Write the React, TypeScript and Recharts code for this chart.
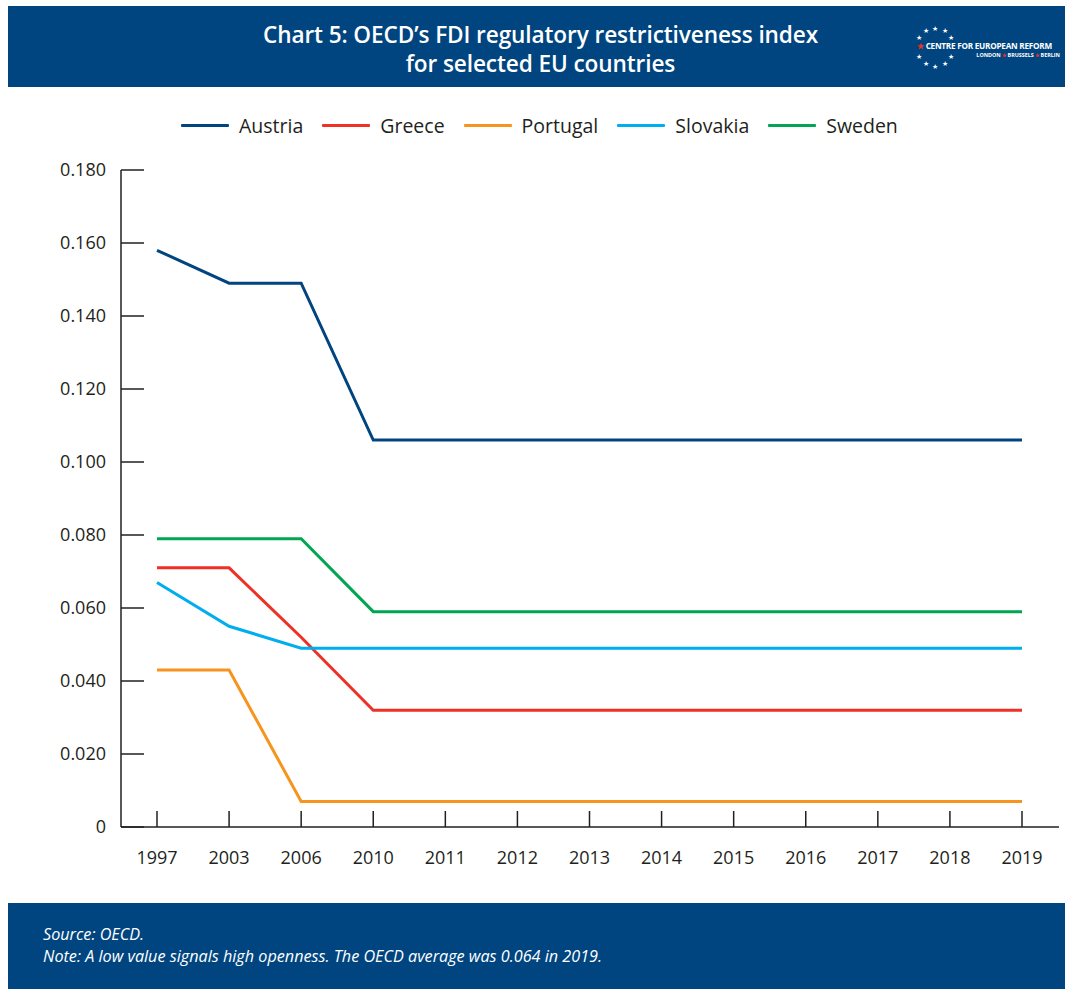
import { LineChart, Line, XAxis, YAxis } from "recharts";

const years = ["1997", "2003", "2006", "2010", "2011", "2012", "2013", "2014", "2015", "2016", "2017", "2018", "2019"];

const austria = [0.158, 0.149, 0.149, 0.106, 0.106, 0.106, 0.106, 0.106, 0.106, 0.106, 0.106, 0.106, 0.106];
const greece = [0.071, 0.071, 0.052, 0.032, 0.032, 0.032, 0.032, 0.032, 0.032, 0.032, 0.032, 0.032, 0.032];
const portugal = [0.043, 0.043, 0.007, 0.007, 0.007, 0.007, 0.007, 0.007, 0.007, 0.007, 0.007, 0.007, 0.007];
const slovakia = [0.067, 0.055, 0.049, 0.049, 0.049, 0.049, 0.049, 0.049, 0.049, 0.049, 0.049, 0.049, 0.049];
const sweden = [0.079, 0.079, 0.079, 0.059, 0.059, 0.059, 0.059, 0.059, 0.059, 0.059, 0.059, 0.059, 0.059];

const yTicks = [0, 0.02, 0.04, 0.06, 0.08, 0.1, 0.12, 0.14, 0.16, 0.18];

const series = [
  { key: "Austria", color: "#00457f" },
  { key: "Greece", color: "#ee3124" },
  { key: "Portugal", color: "#f7941d" },
  { key: "Slovakia", color: "#00aeef" },
  { key: "Sweden", color: "#00a651" },
];

const data = years.map((year, i) => ({
  year,
  Austria: austria[i],
  Greece: greece[i],
  Portugal: portugal[i],
  Slovakia: slovakia[i],
  Sweden: sweden[i],
}));

const BLUE = "#00457f";
const INK = "#231f20";
const FONT = "'Open Sans', sans-serif";

// y ticks: label left of the axis, tick mark pointing into the plot
const YTick = (props: any) => {
  const { x, y, payload } = props;
  const v = payload.value;
  return (
    <g>
      <line x1={x + 15} x2={x + 38} y1={y} y2={y} stroke={INK} strokeWidth={1.5} />
      <text x={x} y={y} dy={6} textAnchor="end" fontSize={18} fill={INK} fontFamily={FONT}>
        {v === 0 ? "0" : v.toFixed(3)}
      </text>
    </g>
  );
};

// x ticks: label below, tick mark pointing up
const XTick = (props: any) => {
  const { x, y, payload } = props;
  return (
    <g>
      <line x1={x} x2={x} y1={y - 22} y2={y - 38} stroke={INK} strokeWidth={1.5} />
      <text x={x} y={y} dy={15} textAnchor="middle" fontSize={18} fill={INK} fontFamily={FONT}>
        {payload.value}
      </text>
    </g>
  );
};

// ring of stars in the logo, gaps left where the name runs through it
const Stars = () => {
  const stars = [];
  for (let i = 0; i < 12; i++) {
    if (i === 3 || i === 9) continue;
    const a = (i * Math.PI) / 6 - Math.PI / 2;
    stars.push(
      <text
        key={i}
        x={22 + 19 * Math.cos(a)}
        y={24 + 19 * Math.sin(a)}
        dy={2.5}
        textAnchor="middle"
        fontSize={6.5}
        fill="#fff"
      >
        ★
      </text>
    );
  }
  return (
    <svg width={46} height={50} style={{ position: "absolute", left: -3, top: -4 }}>
      {stars}
    </svg>
  );
};

export default function App() {
  return (
    <div style={{ position: "relative", width: 1065, height: 989, overflow: "hidden", fontFamily: FONT }}>
      <style>{`body { margin: 0; }`}</style>

      {/* header band */}
      <div
        style={{
          position: "absolute",
          left: 8,
          top: 6,
          width: 1057,
          height: 81,
          background: BLUE,
          color: "#fff",
        }}
      >
        <div
          style={{
            position: "absolute",
            left: 0,
            width: 1065,
            top: 14,
            textAlign: "center",
            fontWeight: 600,
            fontSize: 22.6,
            lineHeight: "29px",
            letterSpacing: -0.1,
          }}
        >
          Chart 5: OECD’s FDI regulatory restrictiveness index
          <br />
          for selected EU countries
        </div>
        <div style={{ position: "absolute", left: 908, top: 21, width: 140, height: 44 }}>
          <Stars />
          <div
            style={{
              position: "absolute",
              left: 1,
              top: 14,
              fontSize: 8.2,
              lineHeight: "10px",
              fontWeight: 700,
              whiteSpace: "nowrap",
              letterSpacing: -0.25,
            }}
          >
            <span style={{ color: "#ee3124" }}>★</span> CENTRE FOR EUROPEAN REFORM
          </div>
          <div
            style={{
              position: "absolute",
              right: -4,
              top: 25,
              fontSize: 5.4,
              lineHeight: "7px",
              fontWeight: 700,
              whiteSpace: "nowrap",
            }}
          >
            LONDON <span style={{ color: "#ee3124" }}>★</span> BRUSSELS{" "}
            <span style={{ color: "#ee3124" }}>★</span> BERLIN
          </div>
        </div>
      </div>

      {/* legend */}
      <div
        style={{
          position: "absolute",
          left: 181,
          top: 112,
          display: "flex",
          alignItems: "center",
          gap: 19,
          fontSize: 19.5,
          color: INK,
        }}
      >
        {series.map((s) => (
          <div key={s.key} style={{ display: "flex", alignItems: "center", gap: 10 }}>
            <div style={{ width: 48, height: 3, background: s.color, borderRadius: 1 }} />
            <span>{s.key}</span>
          </div>
        ))}
      </div>

      <div style={{ position: "absolute", left: 0, top: 0 }}>
        <LineChart width={1065} height={910} data={data} margin={{ top: 170, right: 6, bottom: 33, left: 0 }}>
          <XAxis
            dataKey="year"
            padding={{ left: 36, right: 37 }}
            axisLine={{ stroke: INK, strokeWidth: 1.5 }}
            tickLine={false}
            tickSize={0}
            tickMargin={22}
            height={50}
            tick={<XTick />}
            interval={0}
          />
          <YAxis
            domain={[0, 0.18]}
            ticks={yTicks}
            width={121}
            axisLine={{ stroke: INK, strokeWidth: 1.5 }}
            tickLine={false}
            tickSize={0}
            tickMargin={15}
            tick={<YTick />}
            interval={0}
          />
          {series.map((s) => (
            <Line
              key={s.key}
              type="linear"
              dataKey={s.key}
              stroke={s.color}
              strokeWidth={3}
              dot={false}
              isAnimationActive={false}
            />
          ))}
        </LineChart>
      </div>

      {/* footer band */}
      <div
        style={{
          position: "absolute",
          left: 8,
          top: 903,
          width: 1057,
          height: 86,
          background: BLUE,
          color: "#fff",
          fontStyle: "italic",
          fontSize: 16.2,
          lineHeight: "22px",
        }}
      >
        <div style={{ position: "absolute", left: 35, top: 20 }}>
          Source: OECD.
          <br />
          Note: A low value signals high openness. The OECD average was 0.064 in 2019.
        </div>
      </div>
    </div>
  );
}
